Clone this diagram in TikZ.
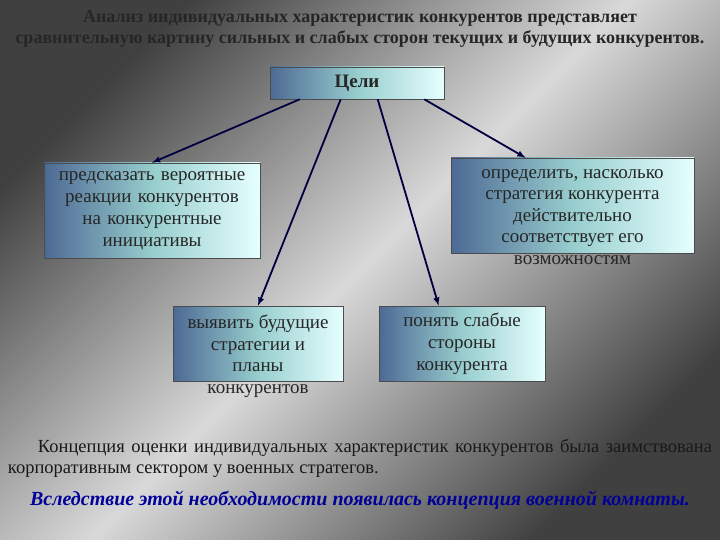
\documentclass[tikz,border=0pt]{standalone}
\usepackage{fontspec}
\setmainfont{Liberation Serif}
\begin{document}
\begin{tikzpicture}[x=1pt,y=-1pt,
  box/.style={draw=black!70,line width=0.6pt,left color=cyan!40!blue!40!black!70,right color=cyan!10!white,middle color=cyan!35!gray!60,inner sep=2pt,align=center,font=\fontsize{19}{22}\selectfont,text=black!85},
  lbl/.style={align=center,font=\fontsize{19}{21.5}\selectfont,text=black!85},
  arr/.style={draw=blue!25!black,line width=1.8pt,-latex}]
\useasboundingbox (0,0) rectangle (720,540);
\fill[black!75] (0,0) rectangle (720,540);
\shade[left color=black!75,right color=black!75,middle color=gray!30,shading angle=45] (0,0) rectangle (720,540);
\node[box,minimum width=174pt,minimum height=32pt,font=\bfseries\fontsize{19}{22}\selectfont] (g) at (357,83) {Цели};
\node[box,minimum width=216pt,minimum height=95pt,text width=210pt] (a) at (152,210.5) {предсказать вероятные\\реакции конкурентов\\на конкурентные\\инициативы};
\node[box,minimum width=243pt,minimum height=95pt] (b) at (572.5,205.5) {};
\node[lbl] at (572.5,217) {определить, насколько\\стратегия конкурента\\действительно\\соответствует его\\возможностям};
\node[box,minimum width=170pt,minimum height=75pt] (c) at (258,343.5) {};
\node[lbl] at (258,356) {выявить будущие\\стратегии и\\планы\\конкурентов};
\node[box,minimum width=166pt,minimum height=75pt] (d) at (462,343.5) {понять слабые\\стороны\\конкурента};
\draw[arr] ([xshift=30pt]g.south west) -- (a.north);
\draw[arr] ([xshift=71pt]g.south west) -- (c.north);
\draw[arr] ([xshift=108pt]g.south west) -- ([xshift=60pt]d.north west);
\draw[arr] ([xshift=-20pt]g.south east) -- ([xshift=-47pt]b.north);
\node[align=center,font=\bfseries\fontsize{18}{21}\selectfont,text=black!85] (t) at (360,29) {Анализ индивидуальных характеристик конкурентов представляет\\сравнительную картину сильных и слабых сторон текущих и будущих конкурентов.};
\node[text width=704pt,align=justify,font=\fontsize{18.5}{21}\selectfont,text=black!90] (p) at (360,458) {\hspace*{30pt}Концепция оценки индивидуальных характеристик конкурентов была заимствована корпоративным сектором у военных стратегов.};
\node[font=\bfseries\itshape\fontsize{20}{22}\selectfont,text=blue!60!black] (q) at (360,500) {Вследствие этой необходимости появилась концепция военной комнаты.};
\end{tikzpicture}
\end{document}
